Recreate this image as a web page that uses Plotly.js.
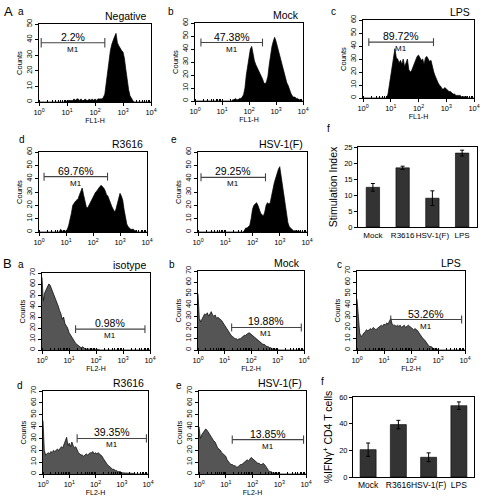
<!DOCTYPE html>
<html><head><meta charset="utf-8">
<script src="https://cdn.plot.ly/plotly-3.0.1.min.js"></script>
<style>html,body{margin:0;padding:0;background:#fff}#chart{width:480px;height:496px}</style>
</head><body><div id="chart"></div>
<script>
// ---------- DATA ----------
// log10 of fluorescence channel (bin centres), 10^0 .. 10^4
const logChannel = [0,0.05,0.1,0.15,0.2,0.25,0.3,0.35,0.4,0.45,0.5,0.55,0.6,0.65,0.7,0.75,0.8,0.85,0.9,0.95,
  1,1.05,1.1,1.15,1.2,1.25,1.3,1.35,1.4,1.45,1.5,1.55,1.6,1.65,1.7,1.75,1.8,1.85,1.9,1.95,
  2,2.05,2.1,2.15,2.2,2.25,2.3,2.35,2.4,2.45,2.5,2.55,2.6,2.65,2.7,2.75,2.8,2.85,2.9,2.95,
  3,3.05,3.1,3.15,3.2,3.25,3.3,3.35,3.4,3.45,3.5,3.55,3.6,3.65,3.7,3.75,3.8,3.85,3.9,3.95,4];

// Panel A histograms (FL1-H counts)
const countsANegative = [0,0,0,0,0,0,0,0,0,0,0,0,0,0,0,0,0,0,0,0,
  1,1,1,1,1,2,1,2,2,1, 2,1,1,2,1,1,2,1,2,1,
  2,1,2,2,2,2,3,5,12,20, 27,33,37,40,42,44,38,36,34,33,
  32,28,21,14,8,4,2,1, 0,0,0,0,0,0,0,0,0,0,0,0,0];
const countsAMock = [0,0,0,0,0,0,0,0,0,0,0,0,0,0,0,0,0,0,0,0,0,0,0,0,0,0,0,0,
  1,1,2,1,1,2,2,3,5,10, 20,28,33,40,42,36,31,28,26,24,
  22,20,17,14,13,15,19,28,36,42, 46,49,46,42,37,33,30,25,21,17,
  14,12,8,6,4,3,3,2,2,1, 1,0,0];
const countsALPS = [0,0,0,0,0,0,0,0,0,0,0,0,0,0,0,0,0,0,
  3,10,16,24,30,38,31,30,27,29, 26,30,24,27,30,22,20,21,24,26,
  30,32,33,31,29,30,26,31,32,30, 28,29,24,20,17,14,12,10,9,7,
  7,8,7,6,5,5,4,3,3,2, 2,2,2,1,1,1,1,1,0,0, 0,0,0];
const countsAR3616 = [0,0,0,0,0,0,0,0,0,0,0,0,0,0,0,0,
  2,1,0,0, 1,2,5,9,14,20,22,23,24,25, 28,30,33,28,22,19,18,20,23,25,
  27,28,30,31,33,34,35,34,33,31, 28,27,24,21,19,17,15,17,21,26,
  29,27,24,17,10,6,4,3,2,2, 2,1,1, 0,0,0,0,0,0,0,0];
const countsAHSV = [0,0,0,0,0,0,0,0,0,0,0,0,0,0,0,0,0,0,0,0,0,0,0,0,0,0,0,0,0,0,0,0,0,0,
  1,3,3,4,5,10, 17,20,21,22,20,17,14,13,12,15,
  20,22,21,22,26,32,37,41,44,47, 49,42,36,29,20,12,7,4,3,2,
  1,1,1,1,1,0.5, 0,0,0,0,0];

// Panel B histograms (FL2-H counts)
const countsBIsotype = [66,45,52,55,58,60,59,56,52,50, 46,44,40,36,33,28,30,24,22,20,
  16,14,11,9,7,6,5,4,3,2, 3,2,1,1,1,1,1,1,1,1, 1,0.5,0.5,0,0,0,0,0,0,0,
  0,0,0,0,0,0,0,0,0,0,0,0,0,0,0,0,0,0,0,0,0,0,0,0,0,0,0,0,0,0,0];
const countsBMock = [50,28,25,27,30,32,31,33,30,32, 34,31,30,31,28,29,28,27,26,24,
  22,20,18,16,14,13,12,11,10,10, 9,10,10,11,12,13,13,14,15,15,
  14,13,12,11,10,9,8,7,6,5, 5,4,3,3,2,2,1,1,1,1, 0.5,
  0,0,0,0,0,0,0,0,0,0,0,0,0,0,0,0,0,0,0,0];
const countsBLPS = [45,25,15,12,13,15,16,18,17,18, 19,18,20,19,18,19,20,21,22,21,
  23,22,24,23,25,28,23,22,22,21, 22,21,22,20,21,22,20,21,22,21,
  20,19,18,19,18,17,15,13,12,10, 9,7,5,4,3,3,2,1,1,1, 0.5,
  0,0,0,0,0,0,0,0,0,0,0,0,0,0,0,0,0,0,0,0];
const countsBR3616 = [45,20,16,17,18,17,19,18,20,19, 20,21,20,22,23,22,25,27,31,24,
  26,23,27,24,22,23,20,18,17,16, 16,15,16,17,16,17,18,18,19,17,
  18,17,18,17,16,15,13,11,9,8, 7,6,5,4,4,3,3,2,2,2,
  1,1,1,1,1,1,1,1,1,0.5, 0,0,0,0,0,0,0,0,0,0,0];
const countsBHSV = [40,30,33,35,36,38,37,35,33,31, 30,28,27,24,22,21,20,18,17,16,
  15,12,10,9,8,8,7,7,6,6, 7,8,8,9,10,11,12,11,13,14,
  13,12,11,10,9,9,8,8,9,8, 6,4,3,2,2,1,1,1,0.5,0.5, 0.5,
  0,0,0,0,0,0,0,0,0,0,0,0,0,0,0,0,0,0,0,0];

// M1 gates
const gateLowA = [1.2, 1.66, 1.62, 1.54, 1.29];
const gateHighA = [224, 316, 347, 345, 300];
const gateLevelA = [38, 45, 43, 41.5, 41];
const gatePercentA = ['2.2%', '47.38%', '89.72%', '69.76%', '29.25%'];
const gateLowB = [17.5, 18.6, 17.8, 20, 17.5];
const gateHighB = [6500, 7900, 7500, 8700, 8100];
const gateLevelB = [19, 20, 27, 30, 29];
const gatePercentB = ['0.98%', '19.88%', '53.26%', '39.35%', '13.85%'];
const gateName = 'M1';

const sampleNamesA = ['Negative', 'Mock', 'LPS', 'R3616', 'HSV-1(F)'];
const sampleNamesB = ['isotype', 'Mock', 'LPS', 'R3616', 'HSV-1(F)'];
const panelLetters = ['a', 'b', 'c', 'd', 'e', 'f'];

// Bar charts
const barCategories = ['Mock', 'R3616', 'HSV-1(F)', 'LPS'];
const stimulationIndex = [12.4, 18.5, 9.0, 23.1];
const stimulationIndexErr = [1.2, 0.5, 2.3, 0.9];
const ifngCD4 = [20.5, 39.3, 14.8, 53.5];
const ifngCD4Err = [5.0, 3.2, 3.3, 2.8];

// Axis tick labels
const fluorTickVals = [1, 10, 100, 1000, 10000];
const fluorTickText = ['10<sup>0</sup>', '10<sup>1</sup>', '10<sup>2</sup>', '10<sup>3</sup>', '10<sup>4</sup>'];

// ---------- LAYOUT ----------
const W = 480, H = 496;
const FONT = 'Liberation Sans, Arial, sans-serif';
const xd = (a, b) => [a / W, b / W];
const yd = (top, bot) => [1 - bot / H, 1 - top / H];

const hist = [
  {counts: countsANegative, name: sampleNamesA[0], lo: gateLowA[0], hi: gateHighA[0], g: gateLevelA[0], pct: gatePercentA[0], box: [39,151,24,102], ymax: 50, fill: '#000', xt: 'FL1-H', cap: 3},
  {counts: countsAMock, name: sampleNamesA[1], lo: gateLowA[1], hi: gateHighA[1], g: gateLevelA[1], pct: gatePercentA[1], box: [195,303,23,101], ymax: 60, fill: '#000', xt: 'FL1-H', cap: 3},
  {counts: countsALPS, name: sampleNamesA[2], lo: gateLowA[2], hi: gateHighA[2], g: gateLevelA[2], pct: gatePercentA[2], box: [363,474,20,98], ymax: 60, fill: '#000', xt: 'FL1-H', cap: 3},
  {counts: countsAR3616, name: sampleNamesA[3], lo: gateLowA[3], hi: gateHighA[3], g: gateLevelA[3], pct: gatePercentA[3], box: [39,147,152,232], ymax: 60, fill: '#000', xt: '', cap: 3},
  {counts: countsAHSV, name: sampleNamesA[4], lo: gateLowA[4], hi: gateHighA[4], g: gateLevelA[4], pct: gatePercentA[4], box: [198,307,152,232], ymax: 60, fill: '#000', xt: '', cap: 3},
  {counts: countsBIsotype, name: sampleNamesB[0], lo: gateLowB[0], hi: gateHighB[0], g: gateLevelB[0], pct: gatePercentB[0], box: [42,150,273,350], ymax: 70, fill: '#555', xt: 'FL2-H', cap: 3.5},
  {counts: countsBMock, name: sampleNamesB[1], lo: gateLowB[1], hi: gateHighB[1], g: gateLevelB[1], pct: gatePercentB[1], box: [198,304,271,350], ymax: 70, fill: '#555', xt: 'FL2-H', cap: 3.5},
  {counts: countsBLPS, name: sampleNamesB[2], lo: gateLowB[2], hi: gateHighB[2], g: gateLevelB[2], pct: gatePercentB[2], box: [357,465,271,350], ymax: 70, fill: '#555', xt: 'FL2-H', cap: 3.5},
  {counts: countsBR3616, name: sampleNamesB[3], lo: gateLowB[3], hi: gateHighB[3], g: gateLevelB[3], pct: gatePercentB[3], box: [43,148,391,474], ymax: 70, fill: '#555', xt: 'FL2-H', cap: 3.5},
  {counts: countsBHSV, name: sampleNamesB[4], lo: gateLowB[4], hi: gateHighB[4], g: gateLevelB[4], pct: gatePercentB[4], box: [199,306,391,474], ymax: 70, fill: '#555', xt: 'FL2-H', cap: 3.5}
];
const histAxisIds = [1, 2, 3, 4, 5, 7, 8, 9, 10, 11];

const traces = [];
const layout = {
  width: W, height: H,
  margin: {l: 0, r: 0, t: 0, b: 0},
  paper_bgcolor: '#fff', plot_bgcolor: '#fff',
  showlegend: false,
  font: {family: FONT, color: '#000', size: 8},
  annotations: []
};
const axName = (p, k) => (k === 1 ? p : p + k);
const channelX = logChannel.map(e => Math.pow(10, e));

hist.forEach((p, i) => {
  const k = histAxisIds[i];
  const xr = axName('x', k), yr = axName('y', k);
  traces.push({
    type: 'scatter', mode: 'lines', x: channelX, y: p.counts,
    fill: 'tozeroy', fillcolor: p.fill,
    line: {color: '#000', width: 0.7},
    xaxis: xr, yaxis: yr, hoverinfo: 'skip'
  });
  traces.push({
    type: 'scatter', mode: 'lines',
    x: [p.lo, p.lo, null, p.lo, p.hi, null, p.hi, p.hi],
    y: [p.g - p.cap, p.g + p.cap, null, p.g, p.g, null, p.g - p.cap, p.g + p.cap],
    line: {color: '#444', width: 1.1}, xaxis: xr, yaxis: yr, hoverinfo: 'skip'
  });
  layout[axName('xaxis', k)] = {
    domain: xd(p.box[0], p.box[1]), anchor: yr,
    type: 'log', range: [0, 4],
    tickmode: 'array', tickvals: fluorTickVals, ticktext: fluorTickText,
    ticks: 'outside', ticklen: 3, tickcolor: '#000', tickfont: {size: 7.5},
    minor: {ticks: 'inside', ticklen: 2, dtick: 'D1', tickcolor: '#000', showgrid: false},
    showline: true, mirror: true, linecolor: '#000', linewidth: 1,
    showgrid: false, zeroline: false, fixedrange: true,
    title: {text: p.xt, font: {size: 7}, standoff: 0}
  };
  layout[axName('yaxis', k)] = {
    domain: yd(p.box[2], p.box[3]), anchor: xr,
    range: [0, p.ymax], dtick: 10, tickangle: -90,
    ticks: 'outside', ticklen: 3, tickcolor: '#000', tickfont: {size: 7.5},
    showline: true, mirror: true, linecolor: '#000', linewidth: 1,
    showgrid: false, zeroline: false, fixedrange: true,
    title: {text: 'Counts', font: {size: 7.5}, standoff: 1}
  };
  layout.annotations.push({
    text: p.name, xref: axName('x', k) + ' domain', yref: axName('y', k) + ' domain',
    x: 1, y: 1, xanchor: 'right', yanchor: 'bottom', showarrow: false,
    font: {size: 10.5}, xshift: -2, yshift: 0
  });
  const mid = (Math.log10(p.lo) + Math.log10(p.hi)) / 2;
  layout.annotations.push({
    text: p.pct, xref: xr, yref: yr, x: mid, y: p.g,
    xanchor: 'center', yanchor: 'bottom', showarrow: false, font: {size: 10.5}, yshift: -2
  });
  layout.annotations.push({
    text: gateName, xref: xr, yref: yr, x: mid, y: p.g,
    xanchor: 'center', yanchor: 'top', showarrow: false, font: {size: 8}, yshift: 0
  });
});

// Bar charts
const bars = [
  {k: 6, y: stimulationIndex, err: stimulationIndexErr, box: [358,477,147,227], ymax: 25, dtick: 5, width: 0.45, title: 'Stimulation Index', catSize: 8},
  {k: 12, y: ifngCD4, err: ifngCD4Err, box: [353,474,397,477], ymax: 60, dtick: 20, width: 0.53, title: '%IFNγ<sup>+</sup> CD4 T cells', catSize: 8.5}
];
bars.forEach(b => {
  const xr = axName('x', b.k), yr = axName('y', b.k);
  traces.push({
    type: 'bar', x: barCategories, y: b.y, width: b.width,
    marker: {color: '#333', line: {color: '#000', width: 0.6}},
    error_y: {type: 'data', array: b.err, visible: true, color: '#000', thickness: 1, width: 2},
    xaxis: xr, yaxis: yr, hoverinfo: 'skip'
  });
  layout[axName('xaxis', b.k)] = {
    domain: xd(b.box[0], b.box[1]), anchor: yr, type: 'category',
    ticks: '', tickangle: 0, tickfont: {size: b.catSize},
    showline: true, mirror: true, linecolor: '#000', linewidth: 1,
    showgrid: false, zeroline: false, fixedrange: true
  };
  layout[axName('yaxis', b.k)] = {
    domain: yd(b.box[2], b.box[3]), anchor: xr,
    range: [0, b.ymax], dtick: b.dtick,
    ticks: 'outside', ticklen: 3, tickcolor: '#000', tickfont: {size: 7.5},
    showline: true, mirror: true, linecolor: '#000', linewidth: 1,
    showgrid: false, zeroline: false, fixedrange: true,
    title: {text: b.title, font: {size: 10.5}, standoff: 4}
  };
});

// Panel letters
const letterPos = [
  ['A', 8, 12, 13], [panelLetters[0], 21, 12, 10], [panelLetters[1], 171, 12, 10], [panelLetters[2], 333, 12, 10],
  [panelLetters[3], 22, 139, 10], [panelLetters[4], 174, 139, 10], [panelLetters[5], 328, 128, 10],
  ['B', 7, 263, 13], [panelLetters[0], 21, 264, 10], [panelLetters[1], 172, 264, 10], [panelLetters[2], 339, 264, 10],
  [panelLetters[3], 20, 385, 10], [panelLetters[4], 179, 385, 10], [panelLetters[5], 322, 381, 10]
];
letterPos.forEach(l => layout.annotations.push({
  text: l[0], xref: 'paper', yref: 'paper', x: l[1] / W, y: 1 - l[2] / H,
  xanchor: 'center', yanchor: 'middle', showarrow: false, font: {size: l[3]}
}));

Plotly.newPlot('chart', traces, layout, {displayModeBar: false, staticPlot: true});
</script>
</body></html>
